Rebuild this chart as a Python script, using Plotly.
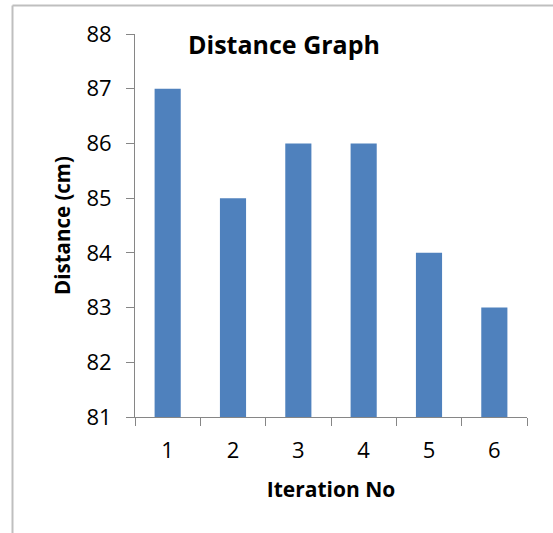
import plotly.graph_objects as go

iterations = ["1", "2", "3", "4", "5", "6"]
distances = [87, 85, 86, 86, 84, 83]
y_ticks = [81, 82, 83, 84, 85, 86, 87, 88]

W, H = 553, 533
L, R, T, B = 135, 26, 34, 116
pw, ph = W - L - R, H - T - B

def px_x(px):
    return (px - L) / pw

def px_y(py):
    return 1 - (py - T) / ph

FONT = "Open Sans"
AX = "#868686"

fig = go.Figure(go.Bar(x=iterations, y=distances, marker_color="#4F81BD",
                       marker_line_width=0))

fig.update_layout(
    width=W, height=H,
    margin=dict(l=L, r=R, t=T, b=B),
    paper_bgcolor="white", plot_bgcolor="white",
    bargap=0.6,
    showlegend=False,
    font=dict(family=FONT, color="black"),
    title=dict(text="<b>Distance Graph</b>", x=284 / W, xanchor="center",
               y=1 - 45 / H, yanchor="middle", yref="container",
               font=dict(size=25, family=FONT, color="black")),
)
fig.update_xaxes(
    type="category", showgrid=False, showline=True, linecolor=AX, linewidth=1,
    ticks="outside", tickson="boundaries", ticklen=8, tickcolor=AX,
    tickfont=dict(size=22, family=FONT, color="black"),
    ticklabelstandoff=14,
    title=dict(text="<b>Iteration No</b>", font=dict(size=21, family=FONT, color="black"),
               standoff=18),
    automargin=False,
)
fig.update_yaxes(
    range=[81, 88], tickvals=y_ticks, showgrid=False, showline=True, linecolor=AX,
    linewidth=1, ticks="outside", ticklen=8, tickcolor=AX, zeroline=False,
    tickfont=dict(size=22, family=FONT, color="black"),
    ticklabelstandoff=10,
    title=dict(text="<b>Distance (cm)</b>", font=dict(size=20.5, family=FONT, color="black"),
               standoff=10),
    automargin=False,
)
# chart-area border (top and left edges visible)
fig.add_shape(type="line", xref="paper", yref="paper",
              x0=px_x(12.5), x1=px_x(553), y0=px_y(5.5), y1=px_y(5.5),
              line=dict(color="#BFBFBF", width=2), layer="below")
fig.add_shape(type="line", xref="paper", yref="paper",
              x0=px_x(12.5), x1=px_x(12.5), y0=px_y(5.5), y1=px_y(533),
              line=dict(color="#BFBFBF", width=2), layer="below")

fig.write_html("out.html", config={"displayModeBar": False},
               post_script="document.body.style.margin='0';")
